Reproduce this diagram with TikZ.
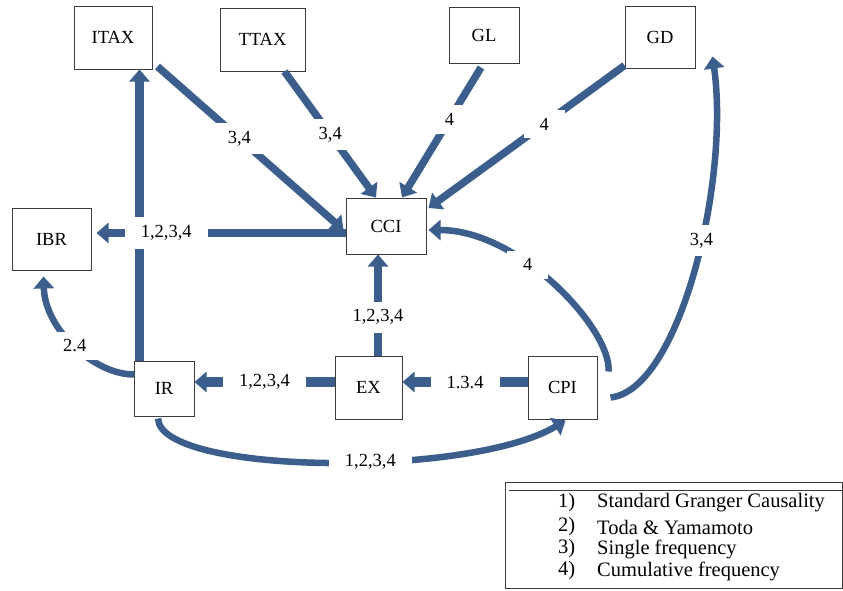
\documentclass[tikz,border=0pt]{standalone}
\usepackage{fontspec}
\setmainfont{Liberation Serif}
\usetikzlibrary{arrows.meta,calc}
\definecolor{arrowblue}{RGB}{59,94,140}
\definecolor{boxgray}{RGB}{60,60,60}
\begin{document}
\begin{tikzpicture}[x=1pt,y=-1pt,
  var/.style={draw=boxgray,line width=1pt,fill=white,inner sep=0pt,font=\fontsize{18.5}{20}\selectfont},
  flow/.style={draw=arrowblue,line width=7.5pt,-{Triangle[width=20pt,length=12pt]}},
  thickflow/.style={flow,line width=9.5pt},
  curvedflow/.style={flow,line width=6.5pt},
  lbl/.style={fill=white,inner xsep=16pt,inner ysep=8pt,font=\fontsize{18.5}{20}\selectfont,text=black},
  legtext/.style={anchor=west,inner sep=0pt,font=\fontsize{20.5}{22}\selectfont}]
\useasboundingbox (0,0) rectangle (843,590);

% variables
\node[var,minimum width=78pt,minimum height=63pt] (ITAX) at (113,37.5) {ITAX};
\node[var,minimum width=85pt,minimum height=63pt] (TTAX) at (262.5,39.5) {TTAX};
\node[var,minimum width=70pt,minimum height=56pt] (GL) at (484,35) {GL};
\node[var,minimum width=70pt,minimum height=62pt] (GD) at (660,37) {GD};
\node[var,minimum width=79pt,minimum height=62pt] (IBR) at (51.5,239) {IBR};
\node[var,minimum width=80pt,minimum height=56pt] (CCI) at (386,226) {CCI};
\node[var,minimum width=60pt,minimum height=55pt] (IR) at (164,388.5) {IR};
\node[var,minimum width=67pt,minimum height=63pt] (EX) at (368.5,387.5) {EX};
\node[var,minimum width=69pt,minimum height=63pt] (CPI) at (562.5,387.5) {CPI};

% connectors
\draw[thickflow] ($(IR.north west)+(6,0)$) coordinate (irtop) -- (irtop |- ITAX.south);
\draw[flow] ($(CCI.west)+(0,7)$) coordinate (ccil) -- node[lbl,pos=0.72] (l1) {1,2,3,4} ($(ccil -| IBR.east)+(5,0)$);
\draw[flow] ($(ITAX.south east)+(5,-3)$) -- node[lbl,pos=0.44] (l2) {3,4} ($(CCI.west)+(-2,4)$);
\draw[flow] ($(TTAX.south)+(22,0)$) -- node[lbl,pos=0.5] (l3) {3,4} ($(CCI.north)+(-10,0)$);
\draw[flow] ($(GL.south)+(-3,4)$) -- node[lbl,pos=0.4] (l4) {4} ($(CCI.north)+(16,0)$);
\draw[flow] ($(GD.south west)+(0,-3)$) -- node[lbl,pos=0.41] (l5) {4} ($(CCI.east)+(2,-18)$);
\draw[flow,line width=8.5pt] ($(EX.north)+(9.5,0)$) coordinate (ext) -- node[lbl,pos=0.38] (l6) {1,2,3,4} (ext |- CCI.south);
\draw[thickflow] ($(EX.west)+(0,-5.5)$) coordinate (exl) -- node[lbl,pos=0.5] (l7) {1,2,3,4} (exl -| IR.east);
\draw[thickflow] ($(CPI.west)+(0,-5.5)$) coordinate (cpil) -- node[lbl,pos=0.5] (l8) {1.3.4} (cpil -| EX.east);
\draw[curvedflow] ($(IR.north west)+(1,14)$) .. controls (95,375) and (45,330) .. node[lbl,pos=0.5] (l9) {2.4} ($(IBR.south)+(-8,6)$);
\draw[curvedflow] ($(CPI.north east)+(11,16)$) .. controls (612,330) and (520,230) .. node[lbl,pos=0.62] (l10) {4} ($(CCI.east)+(2,4)$);
\draw[curvedflow] ($(CPI.south east)+(13,-22)$) .. controls (680,390) and (730,180) .. node[lbl,pos=0.57] (l11) {3,4} ($(GD.south east)+(17,-12)$);
\draw[curvedflow] ($(IR.south)+(-6,2)$) .. controls (160,475) and (470,478) .. node[lbl,pos=0.58] (l12) {1,2,3,4} ($(CPI.south)+(3,1)$);

% legend
\draw[boxgray,line width=1pt] (505,482) rectangle (842,588);
\draw[boxgray,line width=1pt] (509,490.5) -- (842,490.5);
\node[legtext] (n1) at (558,503) {1)};
\node[legtext] (t1) at (597,503) {Standard Granger Causality};
\node[legtext] (n2) at (558,527) {2)};
\node[legtext] (t2) at (597,527) {Toda \& Yamamoto};
\node[legtext] (n3) at (558,549) {3)};
\node[legtext] (t3) at (597,549) {Single frequency};
\node[legtext] (n4) at (558,571) {4)};
\node[legtext] (t4) at (597,571) {Cumulative frequency};
\end{tikzpicture}
\end{document}
